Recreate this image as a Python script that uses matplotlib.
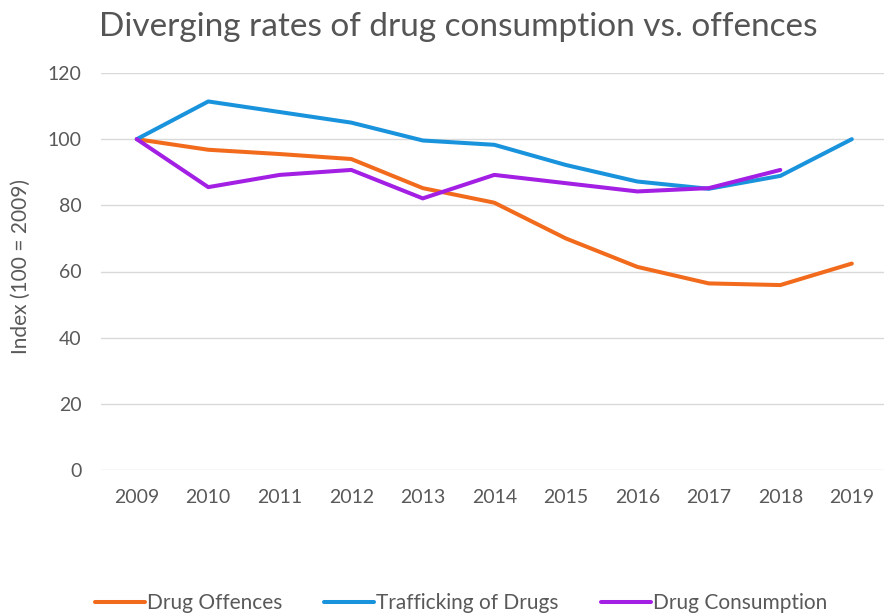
import matplotlib
matplotlib.use("Agg")
import matplotlib.pyplot as plt

plt.rcParams["font.family"] = ["Lato", "DejaVu Sans"]

years = ["2009", "2010", "2011", "2012", "2013", "2014", "2015", "2016", "2017", "2018", "2019"]
drug_offences = [100, 96.8, 95.5, 94.0, 85.2, 80.8, 70.0, 61.4, 56.4, 55.9, 62.4]
trafficking = [100, 111.4, 108.2, 105.0, 99.6, 98.3, 92.2, 87.2, 85.0, 88.9, 100]
consumption = [100, 85.5, 89.2, 90.7, 82.1, 89.2, 86.7, 84.2, 85.2, 90.7]

W, H = 884, 614
fig = plt.figure(figsize=(W / 100, H / 100), dpi=100)
# axes box in pixels: left 101, right 884, top 73, bottom 470
ax = fig.add_axes([101 / W, 1 - 470 / H, (884 - 101) / W, (470 - 73) / H])

grey = "#595959"
x = range(len(years))
ax.plot(x, drug_offences, color="#F26B1D", lw=2.9, label="Drug Offences", solid_capstyle="round")
ax.plot(range(len(years)), trafficking, color="#1A93DD", lw=2.9, label="Trafficking of Drugs", solid_capstyle="round")
ax.plot(range(len(consumption)), consumption, color="#A21FE3", lw=2.9, label="Drug Consumption", solid_capstyle="round")

ax.set_xlim(-0.5, 10.45)
ax.set_ylim(0, 120)
ax.set_yticks(range(0, 121, 20))
ax.set_xticks(list(x))
ax.set_xticklabels(years)
ax.grid(axis="y", color="#D9D9D9", lw=1)
ax.set_axisbelow(True)
for s in ax.spines.values():
    s.set_visible(False)
ax.tick_params(length=0, colors=grey, labelsize=14)
ax.tick_params(axis="x", pad=14)
ax.tick_params(axis="y", pad=14)
ax.set_ylabel("Index (100 = 2009)", color=grey, fontsize=15)
ax.yaxis.set_label_coords(31 / W, 1 - 266 / H, transform=fig.transFigure)

fig.text(458 / W, 1 - 27 / H, "Diverging rates of drug consumption vs. offences",
         ha="center", va="center", fontsize=24, color="#555555")

fig.legend(loc="center", bbox_to_anchor=(461 / W, 1 - 603 / H), ncol=3, frameon=False,
           fontsize=15, labelcolor=grey, handlelength=2.4, handletextpad=0.1,
           columnspacing=2.0)

fig.savefig("out.png", dpi=100)
